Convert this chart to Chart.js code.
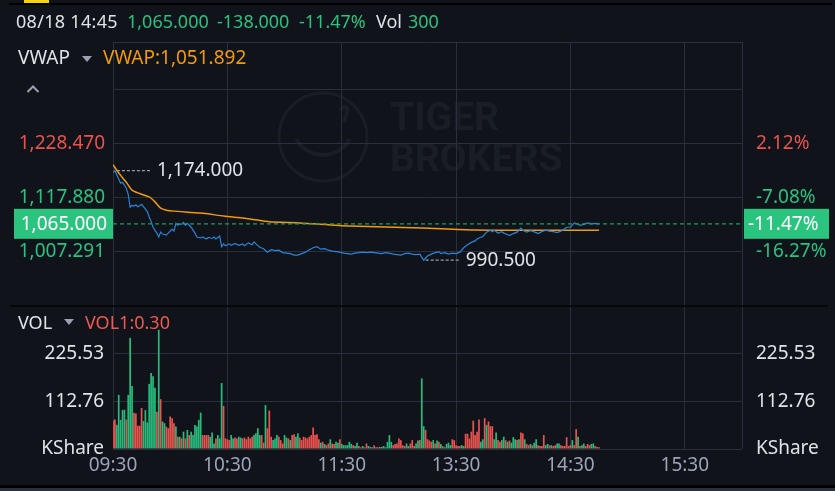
<!DOCTYPE html>
<html><head><meta charset="utf-8">
<script src="https://cdn.jsdelivr.net/npm/chart.js@4/dist/chart.umd.min.js"></script>
<style>
html,body{margin:0;padding:0;background:#10131a;width:835px;height:491px;overflow:hidden;font-family:"Noto Sans",sans-serif;}
.t{position:absolute;white-space:nowrap;font-size:19px;line-height:20px;}
.s{font-size:18px;}
canvas{position:absolute;left:0;top:0;}
.tri{position:absolute;width:0;height:0;border-left:5px solid transparent;border-right:5px solid transparent;border-top:6px solid #9aa0b2;}
.bar{position:absolute;}
</style></head><body>
<div class="bar" style="left:9px;top:3px;width:823px;height:2px;background:#000;"></div>
<div class="bar" style="left:24px;top:0;width:25px;height:3px;background:#f6d20f;"></div>
<canvas id="c1" width="835" height="491"></canvas>
<canvas id="c2" width="835" height="491"></canvas>
<div class="bar" style="left:10px;top:305px;width:818px;height:2px;background:#05070a;"></div>
<div class="bar" style="left:0;top:485px;width:835px;height:3px;background:#000;"></div>
<div class="bar" style="left:0;top:488px;width:835px;height:3px;background:#2a2f3b;"></div>

<span class="t s" id="hDate" style="left:16px;top:11px;color:#dfe2e7;letter-spacing:0.3px;"></span>
<span class="t s" id="hPrice" style="left:127px;top:11px;color:#2bc17f;"></span>
<span class="t s" id="hChg" style="left:217px;top:11px;color:#2bc17f;"></span>
<span class="t s" id="hPct" style="left:299px;top:11px;color:#2bc17f;"></span>
<span class="t s" style="left:376px;top:11px;color:#dfe2e7;">Vol</span>
<span class="t s" id="hVol" style="left:408px;top:11px;color:#2bc17f;"></span>

<span class="t" style="left:18px;top:47px;color:#dfe2e7;">VWAP</span>
<div class="tri" style="left:82px;top:56px;"></div>
<span class="t" id="hVwap" style="left:103px;top:47px;color:#f29a0c;"></span>
<svg style="position:absolute;left:0;top:0;" width="60" height="100"><polyline points="27.5,92 33,86.5 38.5,92" fill="none" stroke="#9aa0b0" stroke-width="2"/></svg>

<span class="t s" style="left:18px;top:312px;color:#dfe2e7;">VOL</span>
<div class="tri" style="left:64px;top:319px;"></div>
<span class="t s" id="hVol1" style="left:85px;top:312px;color:#ec5a52;"></span>

<script>
// ---------- data ----------
const headerTime = '08/18 14:45';
const prevClose = 1203.000;
const lastPrice = 1065.000;
const lastVolume = 300;
const vwapLast = 1051.892;
const vol1Value = '0.30';

const timeLabels = ['09:30','10:30','11:30','13:30','14:30','15:30'];
const timeTickIdx = [0,60,120,180,240,300];
const totalMinutes = 330;

const priceTicks = [1007.291, 1117.880, 1228.470];
const pctTickLabels = ['-16.27%','-7.08%','2.12%'];
const priceAxisMin = 896.701;
const priceAxisMax = 1437.36;

const volTicks = [0, 112.76, 225.53];
const volTickLabels = ['KShare','112.76','225.53'];
const volAxisMax = 338.29;

const priceIdx = [0,1,2,4,5,7,8,9,10,11,12,13,14,15,16,18,19,20,21,23,24,25,26,28,29,31,32,33,34,35,36,37,38,39,41,43,44,46,47,49,50,52,53,54,56,57,58,59,61,62,64,66,68,69,71,73,74,75,77,79,81,83,85,87,89,91,93,95,97,99,101,103,105,107,109,111,113,115,117,119,121,123,125,127,129,131,133,135,137,139,141,143,145,147,149,151,153,155,157,159,161,163,165,167,169,171,172,174,176,178,180,182,184,186,188,190,191,192,194,196,198,199,200,202,204,205,207,208,210,212,214,215,217,219,220,222,223,225,227,229,231,233,235,237,238,240,242,244,245,247,249,251,253,255];
const priceVals = [1170,1174,1165,1148,1150,1138,1125,1099,1103,1101,1104,1100,1102,1105,1100,1090,1079,1070,1058,1046,1038,1048,1044,1042,1046,1054,1050,1066,1062,1065,1064,1068,1062,1066,1058,1046,1038,1036,1038,1034,1037,1035,1038,1034,1040,1018,1024,1020,1024,1021,1025,1021,1024,1020,1026,1022,1028,1024,1017,1014,1007,1012,1010,1011,1006,1005,1004,1001,1001,1004,1007,1012,1016,1018,1013,1014,1011,1009,1008,1007,1005,1004,1003,1005,1006,1007,1006,1007,1006,1005,1004,1006,1005,1003,1002,1001,1004,1005,1003,1002,1003,990.5,999,1003,1006,1008,1004,1006,1003,1005,1004,1007,1016,1022,1027,1030,1034,1036,1039,1048,1052,1049,1052,1046,1049,1046,1043,1041,1045,1048,1056,1052,1048,1051,1050,1047,1045,1049,1052,1050,1049,1047,1050,1055,1058,1058,1067,1064,1062,1064,1067,1065,1066,1065];

const vwapIdx = [0,3,7,10,14,19,22,25,28,32,46,58,72,82,98,124,162,189,220,255];
const vwapVals = [1186,1169,1150,1134,1127,1120,1110,1097,1093,1091,1087,1081,1075,1069,1066.7,1060.5,1056.4,1052.3,1052,1051.9];

const volVals = [67,70,57,128,69,92,93,70,128,263,
149,86,84,55,55,97,66,92,63,154,
180,172,145,88,282,118,65,61,53,49,
77,73,61,53,29,29,25,41,25,45,
33,41,33,57,53,69,86,33,33,33,
33,29,39,13,25,33,25,156,102,25,
23,21,33,25,27,25,29,27,25,27,
23,29,25,29,33,37,49,33,33,15,
104,49,91,29,21,25,33,29,21,13,
33,27,25,21,33,35,29,37,27,21,
29,27,25,29,33,51,33,35,23,15,
17,12,9,13,23,13,12,17,15,23,
12,9,9,9,17,12,9,7,15,7,
4,7,4,13,7,5,4,9,4,4,
5,5,7,4,17,33,17,9,12,13,
25,21,9,7,13,7,13,21,7,13,
20,21,167,54,45,23,20,17,21,13,
20,17,12,7,4,12,15,9,23,21,
9,7,7,9,7,36,36,25,41,67,
33,41,70,17,23,73,57,65,54,54,
23,39,21,17,21,29,21,17,20,15,
28,23,21,23,39,37,23,12,9,12,
9,15,23,9,7,7,33,9,12,9,
9,7,9,13,13,9,7,7,28,7,
9,21,9,47,29,7,9,13,7,12,
9,12,13,7,5,4];
const volDir = 'rrgggggrgg'+'grrrrrgggg'+'gggrgrggrr'+'rrrgrgrgrg'+'rggggggrrr'+'rgggrgggrr'+'rrggrrggrr'+'rrrrggggrr'+'grrrgggrrr'+'ggrgrrggrr'+'rrrrrrrrrg'+'rgrrgrrggr'+'ggggggrggr'+'rgrrggrrgr'+'rggggggrrr'+'rrrrggrrrg'+'grggrrrrgr'+'grgrggggrr'+'rrrggrrrrr'+'rrrggrgrrr'+'ggrrggrgrg'+'ggrgrrgrrg'+'rggrrrrggr'+'grrggrrrrr'+'rgrrgrggrr'+'rggrrr';

// ---------- styles ----------
const GRID = '#292f3b';
const GREEN = '#2bc17f';
const RED = '#e9524d';
const BAR_G = '#27bb7c';
const BAR_R = '#e8534f';
const WHITE = '#dfe2e7';
const FONT = {family:"'Noto Sans', sans-serif", size:19};
Chart.defaults.font.family = FONT.family;
Chart.defaults.font.size = 19;

const fmt3 = v => v.toLocaleString('en-US',{minimumFractionDigits:3, maximumFractionDigits:3});
const pctStr = v => ((v-prevClose)/prevClose*100).toFixed(2)+'%';

document.getElementById('hDate').textContent = headerTime;
document.getElementById('hPrice').textContent = fmt3(lastPrice);
document.getElementById('hChg').textContent = fmt3(lastPrice-prevClose);
document.getElementById('hPct').textContent = pctStr(lastPrice);
document.getElementById('hVol').textContent = String(lastVolume);
document.getElementById('hVwap').textContent = 'VWAP:'+fmt3(vwapLast);
document.getElementById('hVol1').textContent = 'VOL1:'+vol1Value;

const gridIdx = timeTickIdx.concat([totalMinutes]);
const step = priceTicks[1]-priceTicks[0];
const priceGrid = [priceAxisMin].concat(priceTicks, [priceTicks[2]+step, priceAxisMax]);
const near = (a,b)=>Math.abs(a-b)<0.01;

const watermark = {
  id:'wm',
  beforeDraw(chart){
    const c = chart.ctx; c.save();
    c.strokeStyle = '#191d25'; c.fillStyle = '#191d25'; c.lineWidth = 3;
    c.beginPath(); c.arc(323,137,44,0,Math.PI*2); c.stroke();
    c.lineWidth = 4;
    c.beginPath(); c.arc(323,125,30,0.15*Math.PI,0.85*Math.PI); c.stroke();
    c.beginPath(); c.moveTo(340,110); c.quadraticCurveTo(352,100,344,122); c.stroke();
    c.font = "bold 39px Roboto"; c.textBaseline='alphabetic';
    c.fillText('TIGER',390,130);
    c.fillText('BROKERS',390,171);
    c.restore();
  }
};

const priceMarks = {
  id:'pm',
  afterDraw(chart){
    const c = chart.ctx, xs = chart.scales.x, ys = chart.scales.y, a = chart.chartArea;
    c.save();
    const yp = ys.getPixelForValue(lastPrice);
    c.strokeStyle = '#1f9b62'; c.lineWidth = 1.3; c.setLineDash([4,3]);
    c.beginPath(); c.moveTo(a.left, yp); c.lineTo(a.right, yp); c.stroke();
    let iMax = 0, iMin = 0;
    priceVals.forEach((v,i)=>{ if(v>priceVals[iMax]) iMax=i; if(v<priceVals[iMin]) iMin=i; });
    c.strokeStyle = '#9a9ca3'; c.lineWidth = 1.3; c.setLineDash([3,2]);
    c.font = "19px 'Noto Sans'"; c.fillStyle = WHITE; c.textBaseline = 'middle'; c.textAlign='left';
    [iMax,iMin].forEach(k=>{
      const px = xs.getPixelForValue(priceIdx[k]), py = ys.getPixelForValue(priceVals[k]);
      c.beginPath(); c.moveTo(px+2, py); c.lineTo(px+35, py); c.stroke();
      c.fillText(fmt3(priceVals[k]), px+42, py);
    });
    c.setLineDash([]);
    c.fillStyle = '#2bc47f';
    c.fillRect(14, yp-15, 99, 30);
    c.fillRect(744, yp-15, 85, 30);
    c.fillStyle = '#ffffff';
    c.textAlign = 'right'; c.fillText(fmt3(lastPrice), 107, yp+1);
    c.textAlign = 'left'; c.fillText(pctStr(lastPrice), 748, yp+1);
    c.restore();
  }
};

new Chart(document.getElementById('c1'), {
  type:'line',
  data:{datasets:[
    {data: priceIdx.map((x,i)=>({x:x, y:priceVals[i]})), borderColor:'#2b84d8', borderWidth:1.2, pointRadius:0, tension:0},
    {data: vwapIdx.map((x,i)=>({x:x, y:vwapVals[i]})), borderColor:'#f09a0e', borderWidth:1.5, pointRadius:0, tension:0.2}
  ]},
  options:{
    responsive:false, animation:false,
    layout:{padding:{top:42,bottom:185,left:0,right:0}},
    plugins:{legend:{display:false}, tooltip:{enabled:false}},
    scales:{
      x:{type:'linear', min:0, max:totalMinutes,
        afterBuildTicks:s=>{ s.ticks = gridIdx.map(v=>({value:v})); },
        ticks:{display:false}, grid:{color:GRID, drawTicks:false}, border:{display:false},
        afterFit:s=>{ s.height = 0; }},
      y:{position:'left', min:priceAxisMin, max:priceAxisMax,
        afterBuildTicks:s=>{ s.ticks = priceGrid.map(v=>({value:v})); },
        ticks:{padding:8, font:FONT,
          color:ctx=> ctx.tick && ctx.tick.value>prevClose ? RED : GREEN,
          callback:v=>{ const k = priceTicks.findIndex(t=>near(t,v)); return k>=0 ? fmt3(priceTicks[k]) : ''; }},
        grid:{drawTicks:false, color:ctx=> ctx.tick && near(ctx.tick.value,priceAxisMin) ? 'rgba(0,0,0,0)' : GRID},
        border:{display:false},
        afterFit:s=>{ s.width = 113; }},
      y2:{position:'right', min:priceAxisMin, max:priceAxisMax,
        afterBuildTicks:s=>{ s.ticks = priceGrid.map(v=>({value:v})); },
        ticks:{padding:6, font:FONT,
          color:ctx=> ctx.tick && ctx.tick.value>prevClose ? RED : GREEN,
          callback:v=>{ const k = priceTicks.findIndex(t=>near(t,v)); return k>=0 ? pctTickLabels[k] : ''; }},
        grid:{display:false}, border:{display:false},
        afterFit:s=>{ s.width = 93; }}
    }
  },
  plugins:[watermark, priceMarks]
});

new Chart(document.getElementById('c2'), {
  type:'bar',
  data:{datasets:[{
    data: volVals.map((v,i)=>({x:i, y:v})),
    backgroundColor: volVals.map((v,i)=> volDir[i]==='g' ? BAR_G : BAR_R),
    barPercentage:0.9, categoryPercentage:1, borderWidth:0
  }]},
  options:{
    responsive:false, animation:false,
    layout:{padding:{top:306,bottom:0,left:0,right:0}},
    plugins:{legend:{display:false}, tooltip:{enabled:false}},
    scales:{
      x:{type:'linear', min:0, max:totalMinutes, offset:false,
        afterBuildTicks:s=>{ s.ticks = gridIdx.map(v=>({value:v})); },
        ticks:{color:'#9ca4b9', autoSkip:false, maxRotation:0, padding:5, font:FONT,
          callback:v=>{ const k = timeTickIdx.indexOf(v); return k>=0 ? timeLabels[k] : ''; }},
        grid:{color:GRID, drawTicks:false, offset:false}, border:{display:false},
        afterFit:s=>{ s.height = 42; }},
      y:{position:'left', min:0, max:volAxisMax,
        afterBuildTicks:s=>{ s.ticks = volTicks.concat([volAxisMax]).map(v=>({value:v})); },
        ticks:{padding:9, color:WHITE, font:FONT,
          callback:v=>{ const k = volTicks.findIndex(t=>near(t,v)); return k>=0 ? volTickLabels[k] : ''; }},
        grid:{drawTicks:false, color:ctx=> ctx.tick && near(ctx.tick.value,volAxisMax) ? 'rgba(0,0,0,0)' : GRID},
        border:{display:false},
        afterFit:s=>{ s.width = 113; }},
      y2:{position:'right', min:0, max:volAxisMax,
        afterBuildTicks:s=>{ s.ticks = volTicks.concat([volAxisMax]).map(v=>({value:v})); },
        ticks:{padding:6, color:WHITE, font:FONT,
          callback:v=>{ const k = volTicks.findIndex(t=>near(t,v)); return k>=0 ? volTickLabels[k] : ''; }},
        grid:{display:false}, border:{display:false},
        afterFit:s=>{ s.width = 93; }}
    }
  }
});
</script>
</body></html>
